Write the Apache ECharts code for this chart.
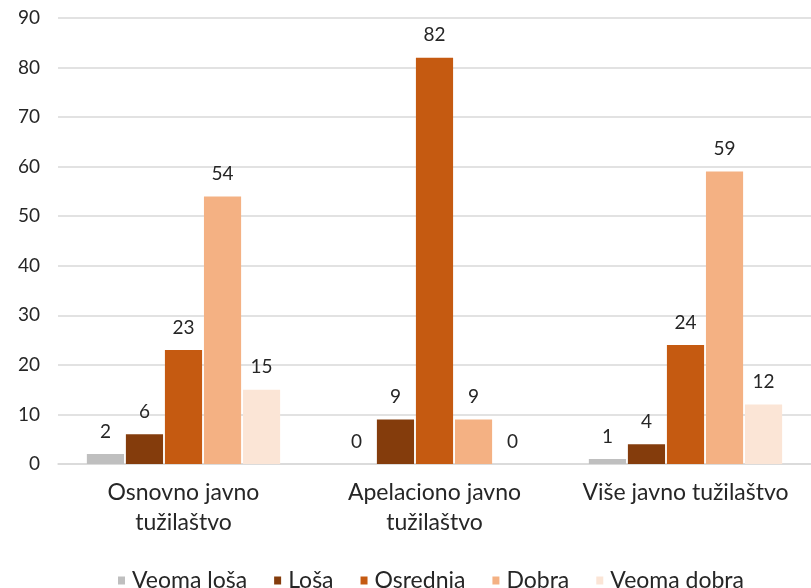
<!DOCTYPE html>
<html>
<head>
<meta charset="utf-8">
<script src="https://cdn.jsdelivr.net/npm/echarts@6/dist/echarts.min.js"></script>
<style>
  html, body { margin: 0; padding: 0; background: #fff; }
  #chart { width: 811px; height: 588px; }
</style>
</head>
<body>
<div id="chart"></div>
<script>
  // kategorije i vrijednosti (procenti)
  var categories = ['Osnovno javno\ntužilaštvo', 'Apelaciono javno\ntužilaštvo', 'Više javno tužilaštvo'];
  var seriesNames = ['Veoma loša', 'Loša', 'Osrednja', 'Dobra', 'Veoma dobra'];
  var veomaLosa = [2, 0, 1];
  var losa = [6, 9, 4];
  var osrednja = [23, 82, 24];
  var dobra = [54, 9, 59];
  var veomaDobra = [15, 0, 12];
  var colors = ['#bfbfbf', '#843c0c', '#c55a11', '#f4b183', '#fbe5d6'];

  var font = 'Lato, "Open Sans", sans-serif';
  var values = [veomaLosa, losa, osrednja, dobra, veomaDobra];

  var series = seriesNames.map(function (name, i) {
    return {
      name: name,
      type: 'bar',
      data: values[i],
      barGap: '5%',
      barCategoryGap: '23%',
      itemStyle: { color: colors[i] },
      label: {
        show: true,
        position: 'top',
        distance: 13,
        color: '#262626',
        fontSize: 19,
        fontFamily: font
      }
    };
  });

  var chart = echarts.init(document.getElementById('chart'));
  chart.setOption({
    animation: false,
    grid: { left: 58, right: 0, top: 18, bottom: 124, containLabel: false },
    legend: {
      data: seriesNames,
      left: 113,
      top: 564,
      itemWidth: 7,
      itemHeight: 8,
      itemGap: 27,
      icon: 'rect',
      textStyle: { color: '#262626', fontSize: 23, fontFamily: font, padding: [0, 0, 0, 2] }
    },
    xAxis: {
      type: 'category',
      data: categories,
      axisLine: { lineStyle: { color: '#d9d9d9', width: 1.5 } },
      axisTick: { show: false },
      axisLabel: {
        interval: 0,
        hideOverlap: false,
        color: '#262626',
        fontSize: 23,
        fontFamily: font,
        lineHeight: 30,
        margin: 14
      }
    },
    yAxis: {
      type: 'value',
      min: 0,
      max: 90,
      interval: 10,
      axisLine: { show: false },
      axisTick: { show: false },
      splitLine: { lineStyle: { color: '#d9d9d9', width: 1.5 } },
      axisLabel: {
        color: '#262626',
        fontSize: 19,
        fontFamily: font,
        margin: 18
      }
    },
    series: series
  });
</script>
</body>
</html>
